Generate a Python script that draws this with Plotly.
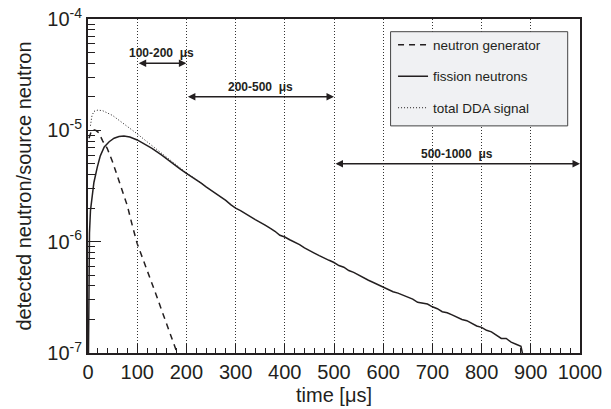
import math
import plotly.graph_objects as go

# ---- data ----
t_fission = [1, 2, 3, 5, 8, 12, 19, 25, 33, 43, 53, 63, 73, 85, 100, 114, 130, 150, 170, 187,
             200, 210, 220, 230, 240, 250, 260, 270, 280, 290, 300, 310, 320, 330, 340, 350,
             360, 370, 380, 390, 400, 410, 420, 430, 440, 450, 460, 470, 480, 490, 500,
             510, 520, 530, 540, 550, 560, 570, 580, 590, 600, 610, 620, 630, 640, 650,
             660, 670, 680, 690, 700, 710, 720, 730, 740, 750, 760, 770, 780, 790, 800,
             810, 820, 830, 840, 850, 860, 870, 880, 885]
y_fission = [1.0e-7, 7e-7, 1.2e-6, 1.9e-6, 2.5e-6, 3.4e-6, 4.7e-6, 5.9e-6, 7.1e-6, 7.9e-6,
             8.5e-6, 8.8e-6, 8.9e-6, 8.7e-6, 8.2e-6, 7.6e-6, 6.9e-6, 6.0e-6, 5.1e-6, 4.5e-6,
             4.1e-6, 3.85e-6, 3.6e-6, 3.35e-6, 3.1e-6, 2.9e-6, 2.7e-6, 2.5e-6, 2.35e-6, 2.15e-6,
             2.0e-6, 1.9e-6, 1.8e-6, 1.68e-6, 1.58e-6, 1.5e-6, 1.41e-6, 1.32e-6, 1.24e-6, 1.14e-6,
             1.1e-6, 1.04e-6, 9.9e-7, 9.4e-7, 8.8e-7, 8.4e-7, 7.9e-7, 7.5e-7, 7.2e-7, 6.8e-7,
             6.5e-7, 6.1e-7, 5.9e-7, 5.5e-7, 5.3e-7, 5.0e-7, 4.8e-7, 4.5e-7, 4.3e-7, 4.1e-7,
             3.9e-7, 3.75e-7, 3.55e-7, 3.45e-7, 3.3e-7, 3.2e-7, 3.05e-7, 2.85e-7, 2.8e-7, 2.75e-7,
             2.6e-7, 2.5e-7, 2.35e-7, 2.3e-7, 2.2e-7, 2.1e-7, 2.0e-7, 1.95e-7, 1.85e-7, 1.75e-7,
             1.7e-7, 1.6e-7, 1.55e-7, 1.45e-7, 1.35e-7, 1.35e-7, 1.25e-7, 1.2e-7, 1.15e-7, 9e-8]

t_generator = [2, 8, 16, 22, 30, 39, 50, 60, 70, 80, 90, 100, 110, 120, 130, 140, 150, 160, 170, 180, 185]
y_generator = [8.5e-6, 1.02e-5, 1.0e-5, 9.5e-6, 8.0e-6, 6.9e-6, 5.2e-6, 3.9e-6, 2.9e-6, 2.1e-6,
               1.4e-6, 9.6e-7, 7.3e-7, 5.6e-7, 4.3e-7, 3.2e-7, 2.4e-7, 1.8e-7, 1.35e-7, 1.0e-7, 9e-8]

t_total = [5, 8, 12, 20, 30, 40, 50, 60, 70, 80, 90, 100, 120, 140, 160, 180, 200, 220, 240]
y_total = [1.1e-5, 1.35e-5, 1.48e-5, 1.52e-5, 1.5e-5, 1.43e-5, 1.36e-5, 1.26e-5, 1.17e-5, 1.08e-5,
           1.0e-5, 9.3e-6, 7.9e-6, 6.7e-6, 5.7e-6, 4.85e-6, 4.15e-6, 3.62e-6, 3.12e-6]

# time windows (start, end, arrow level, label)
windows = [(100, 200, 4e-5, "100-200\u00a0\u00a0μs"),
           (200, 500, 2e-5, "200-500\u00a0\u00a0μs"),
           (500, 1000, 5e-6, "500-1000\u00a0\u00a0μs")]

x_ticks = [0, 100, 200, 300, 400, 500, 600, 700, 800, 900, 1000]
y_ticks = [1e-7, 1e-6, 1e-5, 1e-4]
y_ticktext = ["10<sup>-7</sup>", "10<sup>-6</sup>", "10<sup>-5</sup>", "10<sup>-4</sup>"]

FONT = "Arial, Liberation Sans, sans-serif"
INK = "#231f20"

fig = go.Figure()
fig.add_trace(go.Scatter(x=t_generator, y=y_generator, mode="lines", name="neutron generator",
                         line=dict(color=INK, width=1.5, dash="6px,5px"), legendgroup="a"))
fig.add_trace(go.Scatter(x=t_fission, y=y_fission, mode="lines", name="fission neutrons",
                         line=dict(color=INK, width=1.5), legendgroup="b"))
fig.add_trace(go.Scatter(x=t_total, y=y_total, mode="lines", name="total DDA signal",
                         line=dict(color=INK, width=1, dash="1px,2px"), legendgroup="c"))

annotations = []
for (a, b, lvl, label) in windows:
    ly = math.log10(lvl)
    annotations.append(dict(x=b, y=ly, ax=a, ay=ly, xref="x", yref="y", axref="x", ayref="y",
                            text="", showarrow=True, arrowhead=2, startarrowhead=2,
                            arrowside="end+start", arrowsize=1, startarrowsize=1,
                            arrowwidth=1.5, arrowcolor=INK, standoff=0, startstandoff=0))
    annotations.append(dict(x=(a + b) / 2, y=ly, xref="x", yref="y", text="<b>" + label + "</b>",
                            showarrow=False, yshift=10, font=dict(family=FONT, size=12, color=INK)))

# minor ticks on log axis
y_minor = [k * 10 ** e for e in (-7, -6, -5) for k in range(2, 10)]

fig.update_layout(
    width=611, height=409,
    margin=dict(l=88, r=31, t=19, b=56, autoexpand=False),
    paper_bgcolor="white", plot_bgcolor="white",
    font=dict(family=FONT, size=20, color=INK),
    showlegend=True,
    legend=dict(x=0.62, y=0.969, xanchor="left", yanchor="top", bgcolor="rgba(0,0,0,0)",
                borderwidth=0, font=dict(family=FONT, size=13.5, color=INK),
                traceorder="grouped", tracegroupgap=11),
    annotations=annotations,
    shapes=[dict(type="rect", xref="paper", yref="paper", x0=0.615, x1=0.975, y0=0.680, y1=0.962,
                 fillcolor="#f0f1f3", line=dict(color="#444", width=1), layer="above")],
)
fig.update_xaxes(range=[0, 1000], tickvals=x_ticks, showgrid=True, gridcolor="#333",
                 griddash="1px,2px", gridwidth=1, zeroline=False, automargin=False,
                 showline=True, linecolor=INK, linewidth=2, mirror=True,
                 ticks="inside", ticklen=9, tickwidth=1.2, tickcolor=INK,
                 minor=dict(dtick=20, ticks="inside", ticklen=5, tickcolor=INK, showgrid=False),
                 title=dict(text="time [μs]", font=dict(size=20), standoff=6),
                 tickfont=dict(size=20))
fig.update_yaxes(type="log", range=[-7, -4], tickvals=y_ticks, ticktext=y_ticktext,
                 showgrid=False, zeroline=False, automargin=False,
                 showline=True, linecolor=INK, linewidth=2, mirror=True,
                 ticks="inside", ticklen=13, tickwidth=1.2, tickcolor=INK,
                 minor=dict(tickvals=y_minor, ticks="inside", ticklen=7, tickcolor=INK, showgrid=False),
                 title=dict(text="detected neutron/source neutron", font=dict(size=20), standoff=10),
                 tickfont=dict(size=20), ticklabelstandoff=0)

fig.write_html("out.html", config={"displayModeBar": False},
               post_script="document.body.style.margin='0';")
